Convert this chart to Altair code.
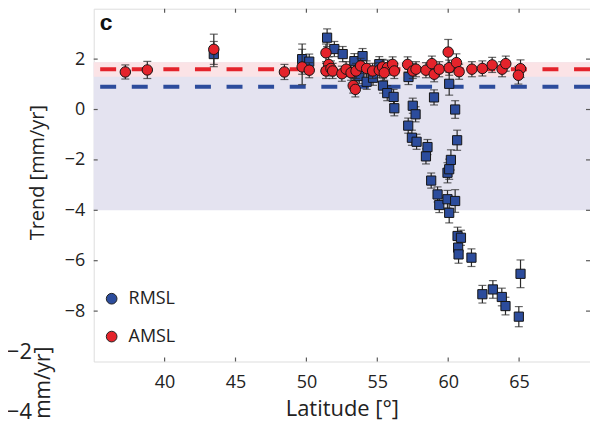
import altair as alt
import pandas as pd

# ---------------- data ----------------
rmsl_lat = [43.47, 49.7, 50.2, 51.46, 51.97, 52.56, 53.38, 53.73, 53.96, 54.25,
            54.7, 55.14, 55.4, 55.7, 56.15, 56.2, 57.2, 57.5, 57.7, 57.18,
            57.44, 57.77, 58.54, 58.43, 59.0, 60.07, 60.49, 60.63, 60.19, 59.95,
            60.07, 58.8, 59.25, 59.37, 59.95, 60.07, 60.49, 60.66, 60.9, 60.7,
            60.73, 61.64, 62.41, 63.15, 63.78, 64.04, 65.1, 64.98]
rmsl_trend = [2.2, 2.0, 1.9, 2.85, 2.4, 2.2, 1.92, 1.33, 2.12, 1.1,
              1.26, 1.8, 0.95, 0.65, 0.5, 0.05, 1.29, 0.15, -0.19, -0.64,
              -1.12, -1.28, -1.49, -1.86, 0.48, 1.02, 0.0, -1.22, -2.0, -2.51,
              -2.37, -2.82, -3.37, -3.79, -3.56, -4.1, -3.63, -5.02, -5.09, -5.48,
              -5.75, -5.88, -7.33, -7.14, -7.44, -7.8, -6.52, -8.22]
rmsl_err = [0.5, 0.6, 0.3, 0.35, 0.3, 0.3, 0.3, 0.3, 0.3, 0.3,
            0.3, 0.3, 0.3, 0.3, 0.3, 0.3, 0.3, 0.3, 0.3, 0.3,
            0.3, 0.3, 0.3, 0.3, 0.3, 0.45, 0.35, 0.4, 0.4, 0.4,
            0.4, 0.3, 0.3, 0.3, 0.35, 0.4, 0.45, 0.35, 0.3, 0.35,
            0.35, 0.35, 0.35, 0.35, 0.35, 0.35, 0.55, 0.4]

amsl_lat = [37.23, 38.78, 43.47, 48.45, 49.7, 50.2, 51.38, 51.57, 51.38, 51.73,
            51.85, 52.5, 52.8, 53.15, 53.3, 53.45, 53.5, 53.82, 54.25, 54.67,
            55.14, 55.37, 55.72, 55.49, 56.08, 56.2, 57.14, 57.5, 57.73, 58.43,
            58.85, 59.01, 59.37, 60.0, 60.07, 60.58, 60.77, 61.67, 62.41, 63.1,
            63.8, 64.06, 65.1, 64.95]
amsl_trend = [1.49, 1.57, 2.39, 1.49, 1.69, 1.56, 2.25, 1.79, 1.53, 1.63,
              1.53, 1.42, 1.6, 1.46, 0.95, 0.8, 1.53, 1.73, 1.63, 1.53,
              1.56, 1.69, 1.66, 1.46, 1.79, 1.53, 1.79, 1.53, 1.6, 1.56,
              1.82, 1.4, 1.6, 2.28, 1.66, 1.86, 1.5, 1.6, 1.63, 1.77,
              1.6, 1.82, 1.62, 1.36]
amsl_err = [0.28, 0.34, 0.6, 0.3, 0.7, 0.3, 0.35, 0.3, 0.3, 0.3,
            0.3, 0.3, 0.3, 0.3, 0.3, 0.3, 0.3, 0.3, 0.3, 0.3,
            0.3, 0.3, 0.3, 0.3, 0.3, 0.3, 0.3, 0.3, 0.3, 0.3,
            0.3, 0.3, 0.3, 0.5, 0.3, 0.35, 0.3, 0.3, 0.3, 0.3,
            0.3, 0.3, 0.35, 0.35]

series_names = ["RMSL", "AMSL"]
series_colors = ["#2c4c9c", "#e4232b"]
mean_rates = [0.9, 1.6]            # dashed reference lines (RMSL, AMSL)
band_lo = [-4.0, 1.3]              # purple band, pink band
band_hi = [1.88, 1.88]
band_colors = ["#e4e3f0", "#fbe3e6"]
x_ticks = [40, 45, 50, 55, 60, 65]
y_ticks = [-8, -6, -4, -2, 0, 2]
x_domain = [35, 70]
y_domain = [-10, 4]
panel_label = ["c"]
neighbour_labels = ["\u22122", "\u22124"]
neighbour_title = ["mm/yr]"]

# ---------------- build tables ----------------
W, H = 498, 354
FONT = "Open Sans"
FRAME = "#5a5a5a"

def table(lat, tr, err, name):
    return pd.DataFrame({
        "lat": lat, "trend": tr,
        "lo": [t - e for t, e in zip(tr, err)],
        "hi": [t + e for t, e in zip(tr, err)],
        "series": name,
    })

rm = table(rmsl_lat, rmsl_trend, rmsl_err, "RMSL")
am = table(amsl_lat, amsl_trend, amsl_err, "AMSL")

xs = alt.Scale(domain=x_domain, nice=False, zero=False)
ys = alt.Scale(domain=y_domain, nice=False, zero=False)
cs = alt.Scale(domain=series_names, range=series_colors)

XAX = alt.Axis(
    values=x_ticks, title="Latitude [\u00b0]", tickSize=0, domain=False, grid=False,
    labelFont=FONT, labelFontSize=18, labelColor="#222", labelPadding=12,
    titleFont=FONT, titleFontSize=22, titleFontWeight="normal", titleColor="#222",
    titlePadding=7)
YAX = alt.Axis(
    values=y_ticks, title="Trend [mm/yr]", tickSize=0, domain=False, grid=False,
    labelExpr="replace(datum.label, '-', '\u2212')",
    labelFont=FONT, labelFontSize=18, labelColor="#222", labelPadding=9,
    titleFont=FONT, titleFontSize=20, titleFontWeight="normal", titleColor="#222",
    titleAngle=270, titleX=-56, titleY=164, titleAlign="center", titleBaseline="middle")

def X(f):
    return alt.X(f, scale=xs, axis=XAX, title="Latitude [\u00b0]")

def Y(f):
    return alt.Y(f, scale=ys, axis=YAX, title="Trend [mm/yr]")

legend = alt.Legend(title=None, orient="none", legendX=9, legendY=282,
                    symbolType="circle", symbolSize=115, symbolStrokeColor="#222",
                    symbolStrokeWidth=1, symbolOpacity=1, labelFont=FONT,
                    labelFontSize=18, labelColor="#222", labelOffset=8,
                    rowPadding=20, padding=0)

bands = pd.DataFrame({"lo": band_lo, "hi": band_hi, "col": band_colors})
band_layer = alt.Chart(bands).mark_rect(opacity=1).encode(
    y=Y("lo:Q"), y2="hi:Q",
    fill=alt.Fill("col:N", scale=None, legend=None))

lines = pd.DataFrame({"y": mean_rates, "col": series_colors})
line_layer = alt.Chart(lines).mark_rule(strokeWidth=4, strokeDash=[16, 15.7]).encode(
    y=Y("y:Q"), stroke=alt.Stroke("col:N", scale=None, legend=None))

def errbars(df):
    rule = alt.Chart(df).mark_rule(color="#2a2a2a", strokeWidth=1.2).encode(
        x=X("lat:Q"), y=Y("lo:Q"), y2="hi:Q")
    cap_lo = alt.Chart(df).mark_tick(orient="horizontal", size=8, thickness=1.2,
                                     color="#2a2a2a").encode(x=X("lat:Q"), y=Y("lo:Q"))
    cap_hi = alt.Chart(df).mark_tick(orient="horizontal", size=8, thickness=1.2,
                                     color="#2a2a2a").encode(x=X("lat:Q"), y=Y("hi:Q"))
    return [rule, cap_lo, cap_hi]

rm_pts = alt.Chart(rm).mark_point(shape="square", filled=True, size=85, opacity=1,
                                  stroke="#151515", strokeWidth=1).encode(
    x=X("lat:Q"), y=Y("trend:Q"), color=alt.Color("series:N", scale=cs, legend=legend))
am_pts = alt.Chart(am).mark_point(shape="circle", filled=True, size=110, opacity=1,
                                  stroke="#151515", strokeWidth=1).encode(
    x=X("lat:Q"), y=Y("trend:Q"), color=alt.Color("series:N", scale=cs, legend=legend))

# inward ticks on all four sides
xt = pd.DataFrame({"v": x_ticks})
yt = pd.DataFrame({"v": y_ticks})
TL = 4
tick_kw = dict(color=FRAME, strokeWidth=1.2)
tick_layers = [
    alt.Chart(xt).mark_rule(**tick_kw).encode(x=X("v:Q"), y=alt.value(0), y2=alt.value(TL)),
    alt.Chart(xt).mark_rule(**tick_kw).encode(x=X("v:Q"), y=alt.value(H - TL), y2=alt.value(H)),
    alt.Chart(yt).mark_rule(**tick_kw).encode(y=Y("v:Q"), x=alt.value(0), x2=alt.value(TL)),
    alt.Chart(yt).mark_rule(**tick_kw).encode(y=Y("v:Q"), x=alt.value(W - TL), x2=alt.value(W)),
]

label_layer = alt.Chart(pd.DataFrame({"t": panel_label})).mark_text(
    font="Liberation Sans", fontSize=23, fontWeight="bold", align="left",
    baseline="alphabetic", color="#111").encode(
    text="t:N", x=alt.value(6), y=alt.value(21))

# fragments of the neighbouring panel at the left edge
frag = pd.DataFrame({"t": neighbour_labels, "yy": [344, 405]})
frag_layer = alt.Chart(frag).mark_text(font=FONT, fontSize=22, align="right",
                                       baseline="middle", color="#222").encode(
    text="t:N", x=alt.value(-62), y=alt.Y("yy:Q", scale=None, axis=None))
frag_title = alt.Chart(pd.DataFrame({"t": neighbour_title})).mark_text(
    font=FONT, fontSize=21, align="right", baseline="middle", angle=270,
    color="#222").encode(text="t:N", x=alt.value(-50), y=alt.value(339))

chart = alt.layer(
    band_layer, line_layer,
    *errbars(rm), rm_pts,
    *errbars(am), am_pts,
    *tick_layers, label_layer, frag_layer, frag_title,
).properties(
    width=W, height=H,
    autosize=alt.AutoSizeParams(type="none"),
    padding={"left": 86, "top": 0, "right": 0, "bottom": 64},
).configure_view(stroke=FRAME, strokeWidth=1.6).configure(background="white")

chart.save("out.html", embed_options={"renderer": "svg", "actions": False})
